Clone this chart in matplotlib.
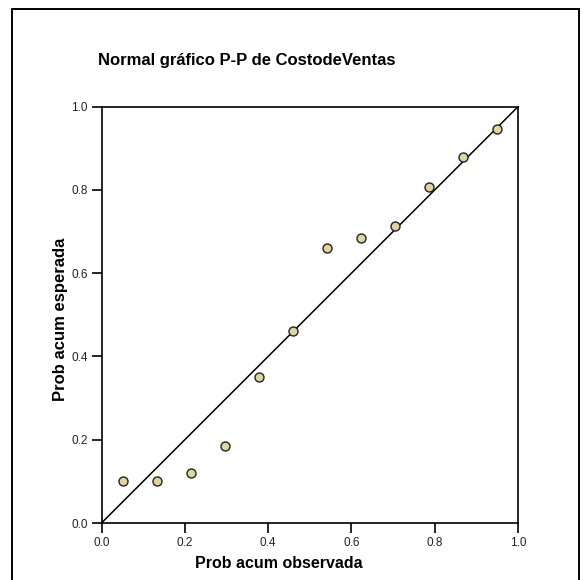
import matplotlib
matplotlib.use("Agg")
import matplotlib.pyplot as plt
from matplotlib.patches import Rectangle

plt.rcParams['font.family'] = ['Liberation Sans', 'DejaVu Sans']

title = "Normal gráfico P-P de CostodeVentas"
x_label = "Prob acum observada"
y_label = "Prob acum esperada"

# observed vs expected cumulative probabilities
obs_prob = [0.051, 0.133, 0.214, 0.296, 0.378, 0.459, 0.541, 0.622, 0.704, 0.786, 0.867, 0.949]
exp_prob = [0.101, 0.101, 0.121, 0.184, 0.351, 0.461, 0.661, 0.685, 0.714, 0.806, 0.878, 0.946]
ticks = [0.0, 0.2, 0.4, 0.6, 0.8, 1.0]
tick_labels = ["0.0", "0.2", "0.4", "0.6", "0.8", "1.0"]

W, H = 583, 580
fig = plt.figure(figsize=(W / 100, H / 100), dpi=100)

# outer frame
fig.patches.append(Rectangle((12 / W, -0.01), 567 / W, 1 - 9 / H + 0.01,
                             transform=fig.transFigure, fill=False,
                             edgecolor='black', linewidth=1.4))

ax = fig.add_axes([101.5 / W, 1 - 523 / H, 416.5 / W, 416.3 / H])
ax.set_xlim(0, 1)
ax.set_ylim(0, 1)
ax.plot([0, 1], [0, 1], color='black', linewidth=1.1, zorder=2)
ax.scatter(obs_prob, exp_prob, s=42, facecolor='#ddd6a2', edgecolor='#222222',
           linewidth=1.0, zorder=3, clip_on=False)

ax.set_xticks(ticks)
ax.set_xticklabels(tick_labels)
ax.set_yticks(ticks)
ax.set_yticklabels(tick_labels)
ax.tick_params(direction='out', length=7, width=1.2, labelsize=8.5,
               colors='black', labelcolor='#222222', pad=3)
for s in ax.spines.values():
    s.set_linewidth(1.2)

fig.text(279 / W, 1 - 563 / H, x_label, ha='center', va='center',
         fontsize=11.5, fontweight='bold')
fig.text(60 / W, 1 - 319 / H, y_label, ha='center', va='center',
         rotation=90, fontsize=12, fontweight='bold')
fig.text(247 / W, 1 - 60 / H, title, ha='center', va='center',
         fontsize=12, fontweight='bold')

fig.savefig("out.png", dpi=100)
